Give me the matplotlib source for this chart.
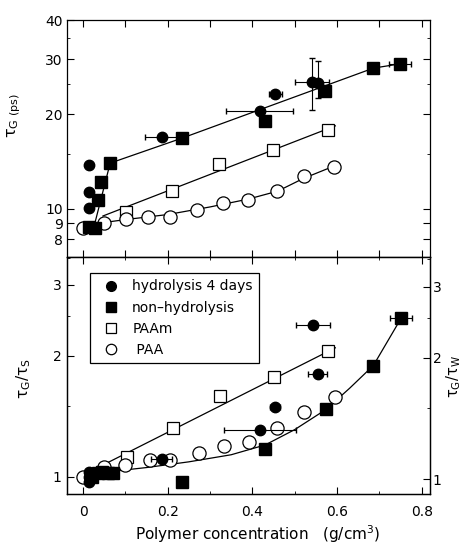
import numpy as np
import matplotlib.pyplot as plt
from matplotlib.lines import Line2D
from matplotlib.ticker import LogLocator, FixedLocator, NullFormatter, FixedFormatter

plt.rcParams['font.family'] = ['DejaVu Sans']
plt.rcParams['mathtext.default'] = 'regular'

#---- panel superior: tau_G (ps)
hyd_x = [0.015, 0.015, 0.015, 0.187, 0.417, 0.454, 0.54, 0.556]
hyd_y = [13.8, 11.35, 10.1, 17.0, 20.5, 23.2, 25.4, 25.2]
hyd_xerr = [0, 0, 0, 0.04, 0.08, 0.015, 0.04, 0]
hyd_yerr_lo = [0, 0, 0, 0, 0, 0, 4.7, 2.7]
hyd_yerr_hi = [0, 0, 0, 0, 0, 0, 4.9, 4.4]

nh_x = [0.015, 0.028, 0.036, 0.042, 0.064, 0.233, 0.43, 0.572, 0.686, 0.749]
nh_y = [8.75, 8.7, 10.7, 12.2, 14.0, 16.8, 19.1, 23.8, 28.1, 28.9]
nh_xerr = [0, 0, 0, 0, 0, 0, 0, 0, 0, 0.026]

paam_x = [0.102, 0.21, 0.322, 0.448, 0.578]
paam_y = [9.8, 11.4, 13.9, 15.4, 17.85]

paa_x = [0.0, 0.05, 0.102, 0.154, 0.206, 0.27, 0.33, 0.39, 0.458, 0.521, 0.593]
paa_y = [8.7, 9.05, 9.27, 9.45, 9.45, 9.93, 10.45, 10.7, 11.4, 12.7, 13.6]

# curvas de ajuste (superior)
fit_nh_x = [0.025, 0.064, 0.233, 0.686, 0.749]
fit_nh_y = [8.7, 14.0, 16.8, 28.1, 29.0]
fit_paam_x = [0.047, 0.596]
fit_paam_y = [9.5, 18.4]
fit_paa_x = [0.048, 0.10, 0.20, 0.30, 0.39, 0.46, 0.52, 0.593]
fit_paa_y = [9.05, 9.25, 9.6, 10.15, 10.75, 11.4, 12.5, 13.7]

#---- panel inferior: tau_G / tau_S
hyd_bx = [0.015, 0.015, 0.015, 0.186, 0.418, 0.454, 0.554, 0.543]
hyd_by = [0.97, 1.0, 1.03, 1.11, 1.31, 1.49, 1.80, 2.38]
hyd_bxerr = [0, 0, 0, 0.025, 0.085, 0.012, 0.023, 0.04]

nh_bx = [0.02, 0.035, 0.045, 0.058, 0.07, 0.233, 0.431, 0.574, 0.686, 0.752]
nh_by = [1.0, 1.02, 1.03, 1.02, 1.02, 0.97, 1.17, 1.47, 1.886, 2.48]
nh_bxerr = [0, 0, 0, 0, 0, 0, 0, 0, 0, 0.026]

paam_bx = [0.103, 0.212, 0.324, 0.45, 0.578]
paam_by = [1.12, 1.32, 1.586, 1.77, 2.05]

paa_bx = [0.0, 0.05, 0.10, 0.158, 0.206, 0.273, 0.332, 0.392, 0.458, 0.521, 0.596]
paa_by = [1.0, 1.06, 1.07, 1.10, 1.10, 1.147, 1.196, 1.224, 1.32, 1.45, 1.577]

fit_paam_bx = [0.005, 0.596]
fit_paam_by = [1.017, 2.09]
fit_nh_bx = [0.06, 0.15, 0.25, 0.35, 0.43, 0.50, 0.574, 0.63, 0.686, 0.752]
fit_nh_by = [1.03, 1.055, 1.09, 1.135, 1.20, 1.31, 1.47, 1.66, 1.89, 2.48]

top_ticks = [8, 9, 10, 20, 30, 40]
bot_ticks = [1, 2, 3]
x_ticks = [0, 0.2, 0.4, 0.6, 0.8]
leg_labels = ['hydrolysis 4 days', 'non\u2013hydrolysis', 'PAAm', ' PAA']

fig = plt.figure(figsize=(4.62, 5.48), dpi=100)
ax1 = fig.add_axes([0.145, 0.531, 0.786, 0.4325])
ax2 = fig.add_axes([0.145, 0.0985, 0.786, 0.4325])

lw = 0.9
ms_fc = 7.5   # circulo lleno
ms_fs = 8     # cuadrado lleno
ms_os = 9     # cuadrado vacio
ms_oc = 9.5   # circulo vacio

#---- superior
ax1.plot(fit_nh_x, fit_nh_y, 'k-', lw=lw)
ax1.plot(fit_paam_x, fit_paam_y, 'k-', lw=lw)
ax1.plot(fit_paa_x, fit_paa_y, 'k-', lw=lw)
ax1.plot(paam_x, paam_y, 's', mfc='white', mec='k', ms=ms_os, mew=0.9)
ax1.plot(paa_x, paa_y, 'o', mfc='white', mec='k', ms=ms_oc, mew=0.9)
ax1.errorbar(hyd_x, hyd_y, xerr=hyd_xerr, yerr=[hyd_yerr_lo, hyd_yerr_hi],
             fmt='o', color='k', ms=ms_fc, elinewidth=0.8, capsize=2)
ax1.errorbar(nh_x, nh_y, xerr=nh_xerr, fmt='s', color='k', ms=ms_fs,
             elinewidth=0.8, capsize=2)

ax1.set_yscale('log')
ax1.set_ylim(7.03, 40)
ax1.set_xlim(-0.038, 0.82)
ax1.yaxis.set_major_locator(FixedLocator(top_ticks))
ax1.yaxis.set_major_formatter(FixedFormatter([str(t) for t in top_ticks]))
ax1.yaxis.set_minor_locator(LogLocator(subs=np.arange(1, 10) * 0.5))
ax1.yaxis.set_minor_formatter(NullFormatter())
ax1.set_xticks(np.arange(0, 0.81, 0.1))
ax1.set_xticklabels([])
ax1.tick_params(which='both', direction='in', top=True, right=True, labelsize=10)
ax1.tick_params(which='major', length=5, pad=3)
ax1.tick_params(which='minor', length=2.5)
ax1.set_ylabel(r'$τ_{G\ (ps)}$', fontsize=11.5)
ax1.yaxis.set_label_coords(-0.121, 0.595)

#---- inferior
ax2.plot(fit_paam_bx, fit_paam_by, 'k-', lw=lw)
ax2.plot(fit_nh_bx, fit_nh_by, 'k-', lw=lw)
ax2.plot(paam_bx, paam_by, 's', mfc='white', mec='k', ms=ms_os, mew=0.9)
ax2.plot(paa_bx, paa_by, 'o', mfc='white', mec='k', ms=ms_oc, mew=0.9)
ax2.errorbar(hyd_bx, hyd_by, xerr=hyd_bxerr, fmt='o', color='k', ms=ms_fc,
             elinewidth=0.8, capsize=2)
ax2.errorbar(nh_bx, nh_by, xerr=nh_bxerr, fmt='s', color='k', ms=ms_fs,
             elinewidth=0.8, capsize=2)

ax2.set_yscale('log')
ax2.set_ylim(0.907, 3.51)
ax2.set_xlim(-0.038, 0.82)
ax2.yaxis.set_major_locator(FixedLocator(bot_ticks))
ax2.yaxis.set_major_formatter(FixedFormatter([str(t) for t in bot_ticks]))
ax2.yaxis.set_minor_locator(LogLocator(subs=np.arange(1, 10) * 0.5))
ax2.yaxis.set_minor_formatter(NullFormatter())
ax2.set_xticks(x_ticks)
ax2.set_xticklabels(['0', '0.2', '0.4', '0.6', '0.8'])
ax2.set_xticks(np.arange(0.1, 0.81, 0.2), minor=True)
ax2.tick_params(which='both', direction='in', top=True, labelsize=10)
ax2.tick_params(which='major', length=5, pad=4)
ax2.tick_params(axis='x', which='major', pad=8)
ax2.tick_params(which='minor', length=2.5)
ax2.set_ylabel(r'$τ_G/τ_S$', fontsize=11)
ax2.yaxis.set_label_coords(-0.094, 0.485)
ax2.set_xlabel(r'Polymer concentration   (g/cm$^3$)', fontsize=11)
ax2.xaxis.set_label_coords(0.526, -0.122)

# eje derecho tau_G / tau_W
ax3 = ax2.twinx()
ax3.set_yscale('log')
ax3.set_ylim(0.918, 3.55)
ax3.yaxis.set_major_locator(FixedLocator(bot_ticks))
ax3.yaxis.set_major_formatter(FixedFormatter([str(t) for t in bot_ticks]))
ax3.yaxis.set_minor_locator(LogLocator(subs=np.arange(1, 10) * 0.5))
ax3.yaxis.set_minor_formatter(NullFormatter())
ax3.tick_params(which='both', direction='in', labelsize=10)
ax3.tick_params(which='major', length=5, pad=2)
ax3.tick_params(which='minor', length=2.5)
ax3.set_ylabel(r'$τ_G/τ_W$', fontsize=10.5, rotation=90)
ax3.yaxis.set_label_coords(1.04, 0.494)

# leyenda con marcadores sin barras de error
handles = [Line2D([], [], ls='', marker='o', color='k', ms=7),
           Line2D([], [], ls='', marker='s', color='k', ms=6.5),
           Line2D([], [], ls='', marker='s', mfc='white', mec='k', ms=7.5, mew=0.9),
           Line2D([], [], ls='', marker='o', mfc='white', mec='k', ms=7.5, mew=0.9)]
leg = ax3.legend(handles, leg_labels, loc='upper left', bbox_to_anchor=(0.063, 0.932),
                 frameon=True, fancybox=False, edgecolor='k', fontsize=10,
                 handlelength=2.2, handletextpad=0.4, borderpad=0.45,
                 labelspacing=0.52, borderaxespad=0, framealpha=1)
leg.get_frame().set_linewidth(0.9)

for ax in (ax1, ax2, ax3):
    for s in ax.spines.values():
        s.set_linewidth(0.9)

plt.savefig('out.png', dpi=100)
